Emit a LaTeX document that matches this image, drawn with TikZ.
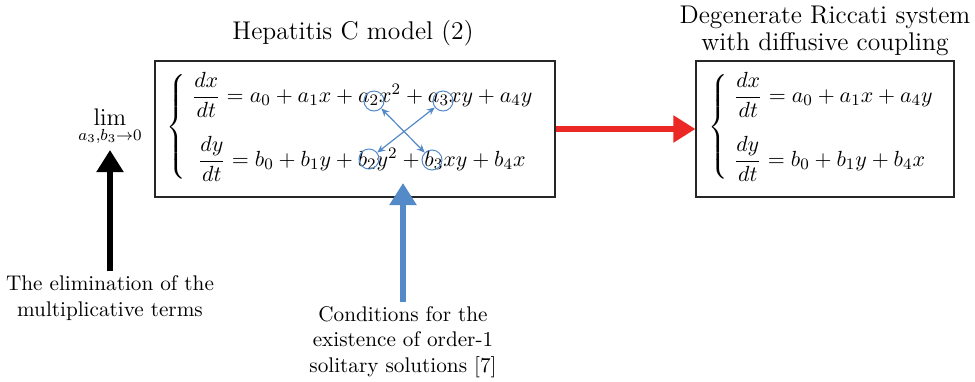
\documentclass[tikz,border=0pt]{standalone}
\usepackage{amsmath}
\usetikzlibrary{arrows.meta}
\definecolor{cblue}{RGB}{84,138,200}
\definecolor{cred}{RGB}{236,40,36}
\newcommand{\eqsize}{\fontsize{11.3}{13.6}\selectfont}
\tikzset{
  px/.style={x=0.5pt,y=-0.5pt},
  eqbox/.style={draw=black!85,line width=0.6pt,minimum width=200pt,minimum height=68pt,inner sep=0pt},
  label/.style={font=\fontsize{10.6}{12.8}\selectfont,align=center,inner sep=0pt},
  title/.style={font=\fontsize{12.8}{13.5}\selectfont,align=center,inner sep=0pt},
  ring/.style={circle,draw=cblue,line width=0.5pt,minimum size=10pt,inner sep=0pt},
  swap/.style={cblue,line width=0.6pt,{Stealth[length=4pt,width=3.5pt]}-{Stealth[length=4pt,width=3.5pt]}},
  bigarrow/.style={line width=2.6pt,-{Triangle[length=11pt,width=13pt]}}
}
\begin{document}
\begin{tikzpicture}[px]
\useasboundingbox (0,0) rectangle (975,381);
% boxes
\node[eqbox] (left) at (355,129) {};
\node[eqbox,minimum width=129pt] (right) at (825,129) {};
% titles
\node[title] (ltitle) at (353,33) {Hepatitis C model (2)};
\node[title] (rtitle) at (825,31) {Degenerate Riccati system\\with diffusive coupling};
% equations
\node[inner sep=0pt,anchor=west] (leq) at (166,127) {\eqsize$\left\{\;\begin{array}{@{}l@{}}
 \dfrac{dx}{dt}=a_0+a_1x+a_2x^2+a_3xy+a_4y\\[13pt]
 \;\dfrac{dy}{dt}=b_0+b_1y+b_2y^2+b_3xy+b_4x
 \end{array}\right.$};
\node[inner sep=0pt,anchor=west] (req) at (708,127) {\eqsize$\left\{\;\begin{array}{@{}l@{}}
 \dfrac{dx}{dt}=a_0+a_1x+a_4y\\[13pt]
 \dfrac{dy}{dt}=b_0+b_1y+b_4x
 \end{array}\right.$};
% rings
\node[ring] (a2) at (374,101) {};
\node[ring] (a3) at (443,101) {};
\node[ring] (b2) at (369,159) {};
\node[ring] (b3) at (432,160) {};
\draw[swap] (a2) -- (b3);
\draw[swap] (b2) -- (a3);
% lim
\node[inner sep=0pt] (lim) at (110,127) {\large$\lim\limits_{a_3,b_3\to0}$};
\node[label] (elim) at (110,298) {The elimination of the\\multiplicative terms};
\node[label] (cond) at (403,342) {Conditions for the\\existence of order-1\\solitary solutions [7]};
\coordinate (limarr) at (110,150);
\coordinate (condarr) at (403,183);
\draw[bigarrow,black] (elim.north) ++(0,-4) -- (limarr);
\draw[bigarrow,cblue] (cond.north) ++(0,-4) -- (condarr);
\draw[bigarrow,cred] (left.east) -- (right.west);
\end{tikzpicture}
\end{document}
